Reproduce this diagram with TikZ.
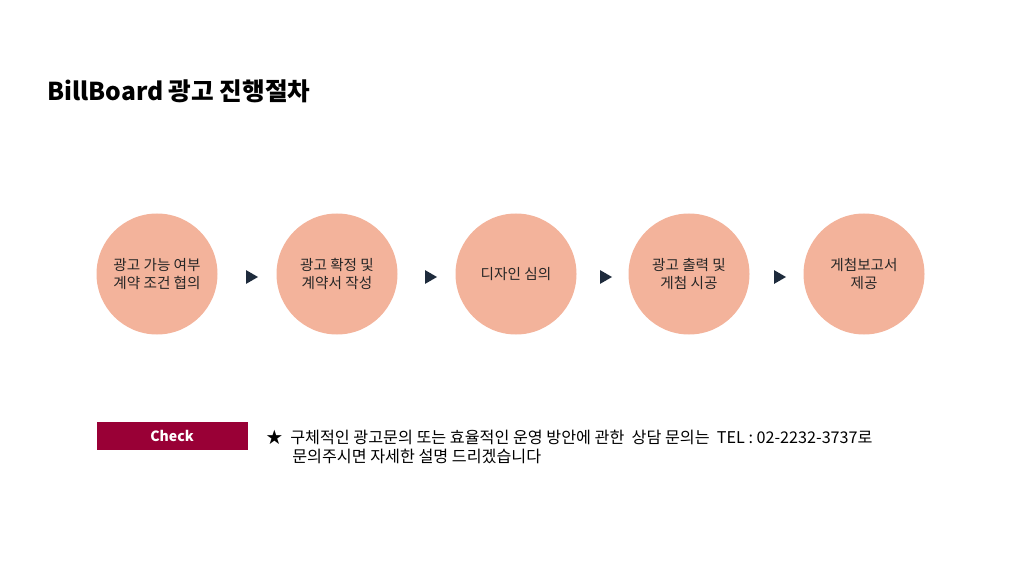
\documentclass[tikz,border=0pt]{standalone}
\usepackage{fontspec}
\setmainfont{Noto Sans CJK KR}
\usepackage{xcolor}
\usetikzlibrary{shapes.geometric}
\usetikzlibrary{positioning}

\definecolor{stepfill}{HTML}{F3B39B}
\definecolor{stepink}{HTML}{262626}
\definecolor{marknavy}{HTML}{1E2B3C}
\definecolor{checkred}{HTML}{990036}

\begin{document}
\begin{tikzpicture}[
  x=0.025cm, y=-0.025cm,
  stepcircle/.style={circle, fill=stepfill, minimum size=121*0.025cm, inner sep=0pt,
    align=center, text=stepink, font=\fontsize{10.4}{12.4}\selectfont},
  marker/.style={isosceles triangle, fill=marknavy, minimum height=12*0.025cm,
    minimum width=12*0.025cm, isosceles triangle apex angle=60, inner sep=0pt},
  notetext/.style={anchor=base west, inner sep=0pt, font=\fontsize{11.5}{13}\selectfont},
]
\useasboundingbox (0,0) rectangle (1020,571);

% Title
\node[anchor=base west, inner sep=0pt, font=\fontsize{17.5}{21}\selectfont\bfseries] (title) at (47,101) {BillBoard 광고 진행절차};

% Step circles
\node[stepcircle] (s1) at (157,274) {광고 가능 여부\\계약 조건 협의};
\node[stepcircle] (s2) at (337,274) {광고 확정 및\\계약서 작성};
\node[stepcircle] (s3) at (516,274) {디자인 심의};
\node[stepcircle] (s4) at (689,274) {광고 출력 및\\게첨 시공};
\node[stepcircle] (s5) at (864,274) {게첨보고서\\제공};

% Markers between steps
\node[marker] (m1) at (250,277) {};
\node[marker] (m2) at (429,277) {};
\node[marker] (m3) at (604,277) {};
\node[marker] (m4) at (778,277) {};

% Check box and note
\node[fill=checkred, minimum width=151*0.025cm, minimum height=28*0.025cm, inner sep=0pt,
  text=white, font=\fontsize{10}{12}\selectfont\bfseries] (check) at (172,436) {Check};
\node[notetext] (star) at (266,443) {★};
\node[notetext] (note1) at (290,443)
  {구체적인 광고문의 또는 효율적인 운영 방안에 관한\ \ 상담 문의는\ \ TEL : 02-2232-3737로};
\node[notetext] (note2) at (292,462) {문의주시면 자세한 설명 드리겠습니다};

\end{tikzpicture}
\end{document}
